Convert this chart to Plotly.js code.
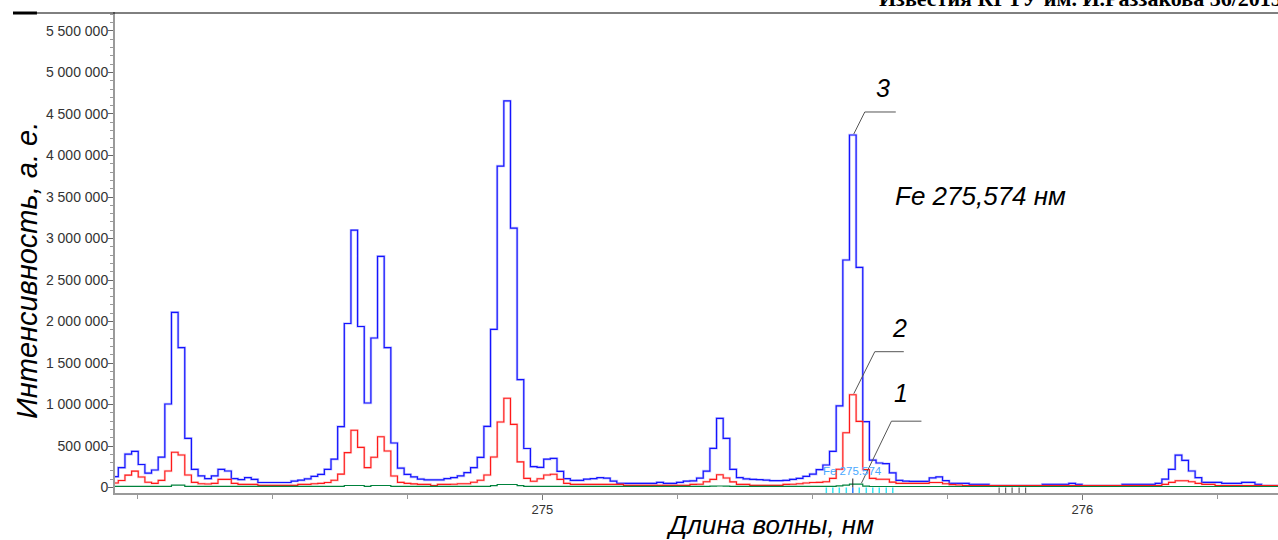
<!DOCTYPE html>
<html>
<head>
<meta charset="utf-8">
<script src="https://cdn.plot.ly/plotly-3.0.1.min.js"></script>
<style>
html,body{margin:0;padding:0;background:#fff;}
#chart{width:1278px;height:540px;}
</style>
</head>
<body>
<div id="chart"></div>
<script>
// Spectrometer pixel grid (wavelength of first pixel centre and pixel dispersion, nm)
const wlStart = 274.20865;
const wlStep = 0.0123093;

// Curve 3 (blue) intensities, a.u.
const series3 = [
  130000, 240000, 402000, 436000, 277000, 173000, 211000, 365000, 1006000, 2110000,
  1685000, 592000, 219000, 139000, 106000, 139000, 219000, 199000, 108000, 96000,
  120000, 98000, 60000, 60000, 60000, 60000, 60000, 78000, 88000, 104000,
  135000, 157000, 219000, 341000, 733000, 1976000, 3100000, 1940000, 1018000, 1801000,
  2785000, 1685000, 536000, 233000, 157000, 127000, 102000, 92000, 92000, 92000,
  108000, 120000, 139000, 180000, 240000, 363000, 737000, 1906000, 3873000, 4657000,
  3125000, 1300000, 470000, 251000, 242000, 341000, 350000, 195000, 106000, 85000,
  86000, 100000, 106000, 118000, 112000, 78000, 50000, 50000, 50000, 50000,
  50000, 50000, 62000, 50000, 50000, 62000, 76000, 80000, 114000, 197000,
  472000, 833000, 592000, 219000, 120000, 104000, 98000, 94000, 90000, 82000,
  82000, 86000, 98000, 110000, 135000, 161000, 215000, 271000, 436000, 984000,
  2741000, 4247000, 2651000, 793000, 331000, 295000, 287000, 177000, 86000, 76000,
  74000, 74000, 74000, 115000, 127000, 82000, 50000, 50000, 50000, 38000,
  38000, 38000, 22000, 22000, 22000, 22000, 22000, 22000, 22000, 22000,
  38000, 38000, 38000, 38000, 50000, 38000, 22000, 22000, 22000, 22000,
  22000, 22000, 38000, 38000, 38000, 38000, 38000, 50000, 100000, 219000,
  390000, 327000, 199000, 118000, 62000, 62000, 62000, 50000, 50000, 50000,
  62000, 62000, 38000, 22000, 22000, 22000
];

// Curve 2 (red) intensities, a.u.
const series2 = [
  55000, 85000, 149000, 197000, 127000, 64000, 50000, 86000, 199000, 424000,
  392000, 151000, 62000, 46000, 42000, 50000, 98000, 98000, 50000, 38000,
  38000, 38000, 26000, 26000, 26000, 26000, 26000, 26000, 38000, 38000,
  45000, 50000, 60000, 87000, 161000, 420000, 690000, 484000, 239000, 364000,
  612000, 440000, 139000, 62000, 50000, 44000, 38000, 38000, 24000, 38000,
  38000, 40000, 46000, 46000, 64000, 88000, 150000, 367000, 790000, 1075000,
  760000, 309000, 110000, 75000, 105000, 150000, 160000, 98000, 50000, 38000,
  38000, 38000, 38000, 38000, 38000, 38000, 38000, 26000, 26000, 26000,
  26000, 26000, 26000, 26000, 26000, 26000, 26000, 38000, 40000, 70000,
  98000, 153000, 115000, 68000, 38000, 38000, 26000, 26000, 26000, 26000,
  26000, 38000, 40000, 45000, 55000, 60000, 62000, 70000, 110000, 220000,
  660000, 1118000, 797000, 215000, 110000, 100000, 100000, 65000, 50000, 50000,
  50000, 50000, 50000, 60000, 60000, 45000, 35000, 30000, 22000, 22000,
  22000, 22000, 22000, 22000, 22000, 22000, 22000, 22000, 22000, 22000,
  22000, 22000, 22000, 22000, 22000, 22000, 22000, 22000, 22000, 22000,
  22000, 22000, 22000, 22000, 22000, 22000, 22000, 22000, 38000, 62000,
  82000, 82000, 70000, 50000, 38000, 38000, 22000, 22000, 22000, 22000,
  22000, 22000, 22000, 22000, 22000, 22000
];

// Curve 1 (green) intensities, a.u.
const series1 = [
  14000, 14000, 14000, 14000, 14000, 14000, 14000, 14000, 14000, 28000,
  28000, 14000, 14000, 14000, 14000, 14000, 14000, 14000, 14000, 14000,
  14000, 14000, 14000, 14000, 14000, 14000, 14000, 14000, 14000, 14000,
  14000, 14000, 14000, 14000, 14000, 24000, 24000, 24000, 14000, 24000,
  24000, 24000, 14000, 14000, 14000, 14000, 14000, 14000, 14000, 14000,
  14000, 14000, 14000, 14000, 14000, 14000, 14000, 22000, 36000, 36000,
  36000, 22000, 14000, 14000, 14000, 14000, 14000, 14000, 14000, 14000,
  14000, 14000, 14000, 14000, 14000, 14000, 14000, 14000, 14000, 14000,
  14000, 14000, 14000, 14000, 14000, 14000, 14000, 14000, 14000, 14000,
  16000, 18000, 16000, 14000, 14000, 14000, 14000, 14000, 14000, 14000,
  14000, 14000, 14000, 14000, 14000, 14000, 14000, 14000, 14000, 20000,
  28000, 40000, 40000, 16000, 12000, 12000, 12000, 12000, 12000, 12000,
  12000, 12000, 12000, 12000, 12000, 12000, 12000, 12000, 12000, 12000,
  12000, 12000, 12000, 12000, 12000, 12000, 12000, 12000, 12000, 12000,
  12000, 12000, 12000, 12000, 12000, 12000, 12000, 12000, 12000, 12000,
  12000, 12000, 12000, 12000, 12000, 12000, 12000, 12000, 12000, 12000,
  12000, 12000, 12000, 12000, 12000, 12000, 12000, 12000, 12000, 12000,
  12000, 12000, 12000, 12000, 12000, 12000
];

// Analytical line and marker positions, nm
const feLine = 275.574;
const cyanMarks = [275.526, 275.538, 275.550, 275.563, 275.587, 275.600, 275.612, 275.624, 275.637, 275.649];
const grayMarks = [275.846, 275.858, 275.870, 275.883, 275.895];
const xTickVals = [275, 276];
const xTickText = ['275', '276'];

const wavelength = series3.map((_, i) => +(wlStart + wlStep * i).toFixed(5));
let feIdx = 0;
wavelength.forEach((w, i) => { if (Math.abs(w - feLine) < Math.abs(wavelength[feIdx] - feLine)) feIdx = i; });

const FONT = 'Liberation Sans, Arial, sans-serif';

function stepTrace(y, color, width) {
  return {
    x: wavelength, y: y, type: 'scatter', mode: 'lines',
    line: {shape: 'hvh', color: color, width: width},
    hoverinfo: 'skip', showlegend: false
  };
}
const traces = [
  stepTrace(series3, 'rgba(130,130,255,0.45)', 2.6),
  stepTrace(series3, 'rgb(20,20,255)', 1.2),
  stepTrace(series2, 'rgba(255,130,130,0.4)', 2.4),
  stepTrace(series2, 'rgb(255,25,25)', 1.1),
  stepTrace(series1, 'rgb(0,130,60)', 1.2)
];

const shapes = [];
// page header rule
shapes.push({type: 'line', xref: 'paper', yref: 'paper', x0: -0.0877, x1: -0.0671, y0: 0.9979, y1: 0.9979, line: {color: '#000', width: 3}});
shapes.push({type: 'line', xref: 'paper', yref: 'paper', x0: -0.0671, x1: 1, y0: 0.9979, y1: 0.9979, line: {color: '#000', width: 1}});
// marker ticks below spectrum
cyanMarks.forEach(w => shapes.push({type: 'line', xref: 'x', yref: 'y', ysizemode: 'pixel', yanchor: 0, x0: w, x1: w, y0: 0, y1: -6, line: {color: '#38e4f4', width: 1.5}}));
grayMarks.forEach(w => shapes.push({type: 'line', xref: 'x', yref: 'y', ysizemode: 'pixel', yanchor: 0, x0: w, x1: w, y0: 0, y1: -6, line: {color: '#666', width: 1.2}}));
shapes.push({type: 'line', xref: 'x', yref: 'y', ysizemode: 'pixel', yanchor: 0, x0: wavelength[feIdx], x1: wavelength[feIdx], y0: 0, y1: -6, line: {color: '#2a7fff', width: 1.5}});
shapes.push({type: 'line', xref: 'x', yref: 'y', ysizemode: 'pixel', yanchor: 0, x0: wavelength[feIdx], x1: wavelength[feIdx], y0: 0, y1: 9, line: {color: '#222', width: 1}});
// leader lines for curve numbers
function leader(xa, ya, path) {
  return {type: 'path', xref: 'x', yref: 'y', xsizemode: 'pixel', ysizemode: 'pixel', xanchor: xa, yanchor: ya, path: path, line: {color: '#555', width: 1}};
}
shapes.push(leader(wavelength[feIdx], series3[feIdx], 'M 1 1 L 12 23 L 43 23'));
shapes.push(leader(wavelength[feIdx], series2[feIdx], 'M 1 1 L 22 43 L 51 43'));
shapes.push(leader(wavelength[feIdx + 1], series1[feIdx + 1], 'M 2 1 L 32 63 L 62 63'));

const italic = (size) => ({family: FONT, size: size, color: '#000', style: 'italic'});
const annotations = [
  {xref: 'paper', yref: 'paper', x: -0.0757, y: 0.4636, text: 'Интенсивность, а. е.', textangle: -90, showarrow: false, xanchor: 'center', yanchor: 'middle', font: italic(29)},
  {xref: 'paper', yref: 'paper', x: 0.5632, y: -0.0665, text: 'Длина волны, нм', showarrow: false, xanchor: 'center', yanchor: 'middle', font: italic(26)},
  {xref: 'paper', yref: 'paper', x: 0.7446, y: 0.6175, text: 'Fe 275,574 нм', showarrow: false, xanchor: 'center', yanchor: 'middle', font: italic(26)},
  {xref: 'x', yref: 'y', x: wavelength[feIdx], y: series3[feIdx], xshift: 30, yshift: 47, text: '3', showarrow: false, font: italic(25)},
  {xref: 'x', yref: 'y', x: wavelength[feIdx], y: series2[feIdx], xshift: 47, yshift: 67, text: '2', showarrow: false, font: italic(25)},
  {xref: 'x', yref: 'y', x: wavelength[feIdx + 1], y: series1[feIdx + 1], xshift: 42, yshift: 91, text: '1', showarrow: false, font: italic(25)},
  {xref: 'x', yref: 'y', x: wavelength[feIdx], y: 0, yshift: 16.5, text: 'Fe 275.574', showarrow: false, font: {family: FONT, size: 11.5, color: '#4aa8ff'}},
  {xref: 'paper', yref: 'paper', x: 0.6552, y: 1.0291, text: 'Известия КГТУ им. И.Раззакова 36/2015', showarrow: false, xanchor: 'left', yanchor: 'middle', font: {family: 'Liberation Serif, Times New Roman, serif', size: 22, color: '#000', weight: 'bold'}}
];

const layout = {
  width: 1278, height: 540,
  margin: {l: 115, r: 0, t: 12, b: 47, pad: 0},
  paper_bgcolor: '#fff', plot_bgcolor: '#fff',
  separators: ', ',
  showlegend: false,
  font: {family: FONT, color: '#333'},
  xaxis: {
    range: [274.2087, 276.3624],
    tickmode: 'array', tickvals: xTickVals, ticktext: xTickText,
    ticks: 'outside', ticklen: 5, tickcolor: '#777', tickwidth: 1,
    showline: true, linecolor: '#9a9a9a', linewidth: 2,
    showgrid: false, zeroline: false, ticklabelstandoff: -2,
    tickfont: {family: FONT, size: 13, color: '#333'},
    minor: {dtick: 0.25, tick0: 0, ticks: 'outside', ticklen: 4, tickcolor: '#999', showgrid: false}
  },
  yaxis: {
    range: [-66264, 5728824],
    tick0: 0, dtick: 500000, tickformat: ',d',
    ticks: 'outside', ticklen: 5, tickcolor: '#666', tickwidth: 1,
    showline: true, linecolor: '#9a9a9a', linewidth: 2,
    showgrid: false, zeroline: false, ticklabelstandoff: -3,
    tickfont: {family: FONT, size: 14, color: '#333'},
    minor: {dtick: 100000, tick0: 0, ticks: 'outside', ticklen: 3, tickcolor: '#999', showgrid: false}
  },
  shapes: shapes,
  annotations: annotations
};

Plotly.newPlot('chart', traces, layout, {displayModeBar: false, staticPlot: true});
</script>
</body>
</html>
